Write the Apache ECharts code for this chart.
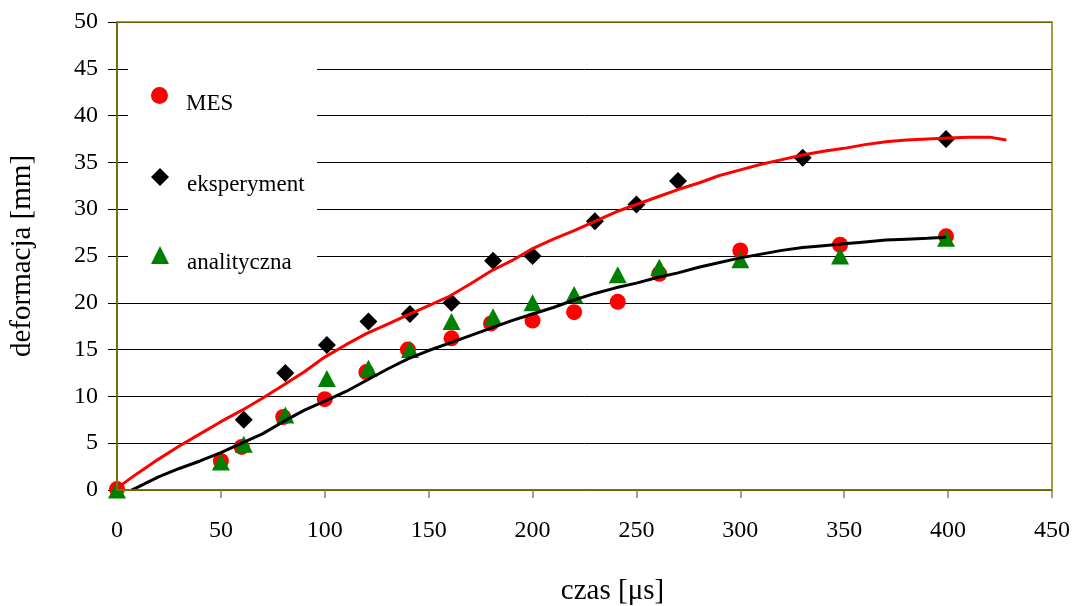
<!DOCTYPE html>
<html>
<head>
<meta charset="utf-8">
<script src="https://cdn.jsdelivr.net/npm/echarts@6/dist/echarts.min.js"></script>
<style>html,body{margin:0;padding:0;background:#fff}#c{width:1075px;height:606px}</style>
</head>
<body>
<div id="c"></div>
<script>
// ---- data ----
const mesX = [0, 50, 60, 80, 100, 120, 140, 161, 180, 200, 220, 241, 261, 300, 348, 399];
const mesY = [0.1, 3.1, 4.6, 7.8, 9.7, 12.6, 15.0, 16.2, 17.8, 18.1, 19.0, 20.1, 23.1, 25.6, 26.2, 27.1];

const eksX = [61, 81, 101, 121, 141, 161, 181, 200, 230, 250, 270, 330, 399];
const eksY = [7.5, 12.5, 15.5, 18.0, 18.8, 20.0, 24.5, 25.0, 28.7, 30.5, 33.0, 35.5, 37.5];

const anaX = [0, 50, 61, 81, 101, 121, 141, 161, 181, 200, 220, 241, 261, 300, 348, 399];
const anaY = [0, 3.0, 4.9, 8.0, 11.9, 13.0, 15.0, 18.0, 18.5, 20.0, 20.9, 23.0, 23.8, 24.6, 25.0, 26.9];

const redLineX = [0, 10, 20, 30, 40, 50, 60, 70, 80, 90, 100, 110, 120, 130, 140, 150, 160, 170, 180, 190, 200, 210, 220, 230, 240, 250, 260, 270, 280, 290, 300, 310, 320, 330, 340, 350, 360, 370, 380, 390, 400, 410, 420, 428];
const redLineY = [0.2, 1.8, 3.3, 4.7, 6.0, 7.3, 8.5, 9.8, 11.2, 12.6, 14.2, 15.5, 16.7, 17.7, 18.7, 19.7, 20.7, 22.0, 23.4, 24.5, 25.8, 26.8, 27.7, 28.7, 29.7, 30.5, 31.3, 32.1, 32.8, 33.6, 34.2, 34.8, 35.3, 35.8, 36.2, 36.5, 36.9, 37.2, 37.4, 37.5, 37.6, 37.7, 37.7, 37.4];

const blackLineX = [7, 10, 20, 30, 40, 50, 60, 70, 80, 90, 100, 110, 120, 130, 140, 150, 160, 170, 180, 190, 200, 210, 220, 230, 240, 250, 260, 270, 280, 290, 300, 310, 320, 330, 340, 350, 360, 370, 380, 390, 399];
const blackLineY = [0, 0.3, 1.4, 2.3, 3.1, 4.0, 5.0, 6.0, 7.3, 8.5, 9.5, 10.5, 11.7, 12.9, 14.0, 14.9, 15.7, 16.5, 17.3, 18.1, 18.8, 19.5, 20.3, 21.0, 21.6, 22.1, 22.7, 23.2, 23.8, 24.3, 24.8, 25.2, 25.6, 25.9, 26.1, 26.3, 26.5, 26.7, 26.8, 26.9, 27.0];

const xTicks = [0, 50, 100, 150, 200, 250, 300, 350, 400, 450];
const yTicks = [0, 5, 10, 15, 20, 25, 30, 35, 40, 45, 50];
const legendNames = ['MES', 'eksperyment', 'analityczna'];

const zip = (xs, ys) => xs.map((x, i) => [x, ys[i]]);
const FONT = '"Liberation Serif", "Times New Roman", serif';

const chart = echarts.init(document.getElementById('c'), null, {renderer: 'canvas'});

const legendTops = [82, 163, 241];
const legendIcons = ['circle', 'diamond', 'triangle'];

chart.setOption({
  animation: false,
  backgroundColor: '#fff',
  textStyle: {fontFamily: FONT},
  grid: {left: 117, top: 22, right: 23, bottom: 116, outerBoundsMode: 'none', containLabel: false,
    show: true, z: 10, borderColor: '#808000', borderWidth: 1.5, backgroundColor: 'transparent'},
  graphic: [{
    type: 'rect', z: 3, silent: true,
    shape: {x: 128, y: 60, width: 189, height: 227},
    style: {fill: '#fff'}
  }],
  legend: legendNames.map((n, i) => ({
    data: [{name: n, icon: legendIcons[i]}],
    left: 146, top: legendTops[i], z: 5,
    itemWidth: i === 0 ? 17 : 18, itemHeight: i === 0 ? 17 : 18,
    selectedMode: false,
    formatter: '{t|{name}}',
    textStyle: {fontFamily: FONT, fontSize: 23, color: '#000', padding: [0, 0, 0, 13],
      rich: {t: {fontFamily: FONT, fontSize: 23, color: '#000', padding: [16, 0, 0, 0]}}}
  })),
  xAxis: {
    type: 'value', min: 0, max: 450, interval: 50,
    name: 'czas [μs]', nameLocation: 'middle', nameGap: 87,
    nameTextStyle: {fontFamily: FONT, fontSize: 29, color: '#000', padding: [0, 0, 0, 56]},
    axisLine: {show: true, onZero: false, lineStyle: {color: '#2a2a00', width: 1.5}},
    axisTick: {show: true, inside: false, length: 8, lineStyle: {color: '#808080', width: 1.5}},
    axisLabel: {fontFamily: FONT, fontSize: 24, color: '#000', margin: 29,
      formatter: v => xTicks.includes(v) ? String(v) : ''},
    splitLine: {show: false}
  },
  yAxis: {
    type: 'value', min: 0, max: 50, interval: 5,
    name: 'deformacja [mm]', nameLocation: 'middle', nameGap: 80,
    nameTextStyle: {fontFamily: FONT, fontSize: 29, color: '#000'},
    axisLine: {show: true, lineStyle: {color: '#000', width: 1.5}},
    axisTick: {show: true, inside: false, length: 9, lineStyle: {color: '#000', width: 1}},
    axisLabel: {fontFamily: FONT, fontSize: 24, color: '#000', margin: 19,
      formatter: v => yTicks.includes(v) ? String(v) : ''},
    splitLine: {show: true, lineStyle: {color: '#000', width: 1}}
  },
  series: [
    {name: 'MES', type: 'scatter', data: zip(mesX, mesY), symbol: 'circle', symbolSize: 16,
      itemStyle: {color: '#ff0000', opacity: 1}, z: 2},
    {name: 'eksperyment', type: 'scatter', data: zip(eksX, eksY), symbol: 'diamond', symbolSize: 18,
      itemStyle: {color: '#000000', opacity: 1}, z: 2},
    {name: 'analityczna', type: 'scatter', data: zip(anaX, anaY), symbol: 'triangle', symbolSize: [18, 17],
      itemStyle: {color: '#008000', opacity: 1}, z: 2},
    {name: 'linia MES', type: 'line', data: zip(blackLineX, blackLineY), showSymbol: false, symbol: 'none',
      lineStyle: {color: '#000', width: 3}, z: 3},
    {name: 'linia eksperyment', type: 'line', data: zip(redLineX, redLineY), showSymbol: false, symbol: 'none',
      lineStyle: {color: '#ff0000', width: 3}, z: 3}
  ]
});
</script>
</body>
</html>
